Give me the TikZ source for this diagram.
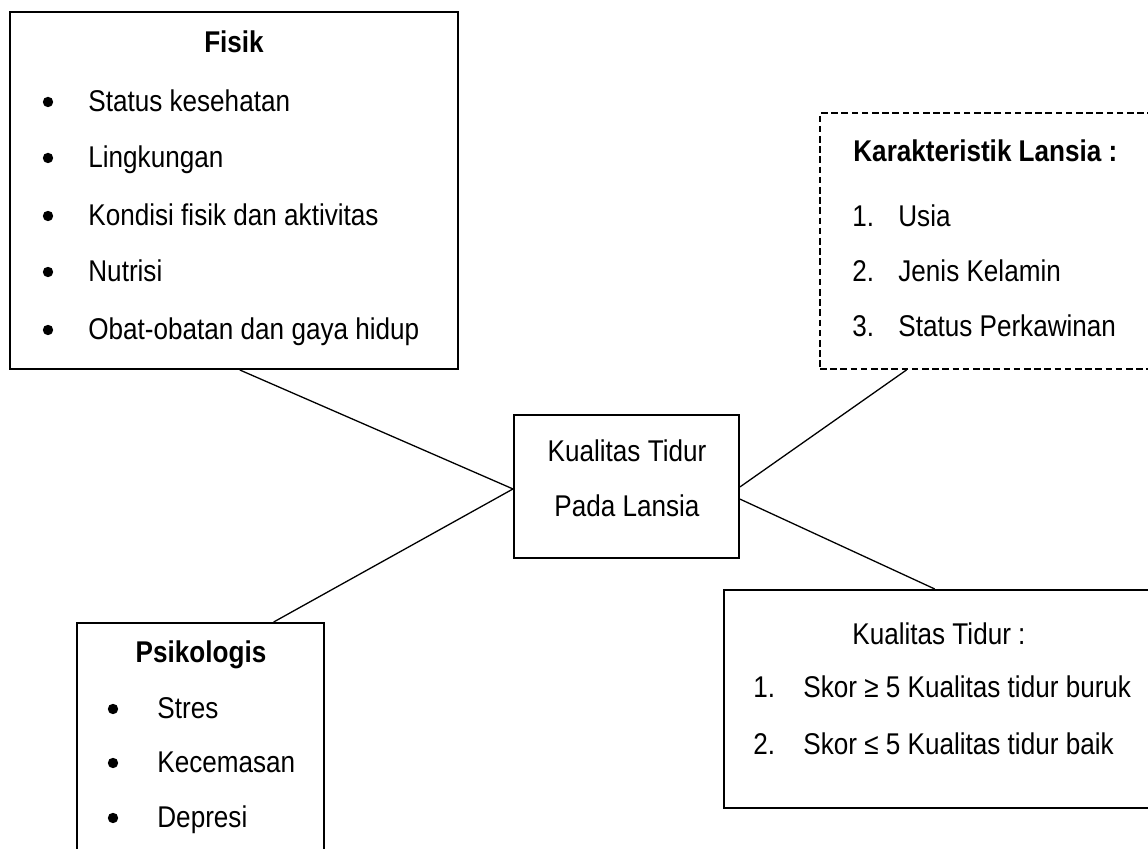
\documentclass[tikz,border=0pt]{standalone}
\usepackage{fontspec}
\setmainfont{Liberation Sans}[FakeStretch=0.87]
\usetikzlibrary{calc}
\tikzset{
  box/.style={draw=black, line width=1pt, inner sep=0pt},
  dashbox/.style={box, dash pattern=on 3.3pt off 1.8pt},
  conn/.style={draw=black, line width=0.65pt},
  txt/.style={inner sep=0pt, font=\fontsize{15}{18}\selectfont},
  hd/.style={txt, font=\fontsize{15}{18}\selectfont\bfseries},
  dot/.style={circle, fill=black, inner sep=0pt, minimum size=5.2pt},
}
\begin{document}
\begin{tikzpicture}[x=0.5pt, y=-0.5pt]
\clip (0,0) rectangle (1148,849);
\fill[white] (0,0) rectangle (1148,849);
% boxes
\node[box, minimum width=224pt, minimum height=178.5pt] (fisik) at (234,190.5) {};
\node[dashbox, minimum width=172.5pt, minimum height=128pt] (kar) at (992.5,241) {};
\node[box, minimum width=112.5pt, minimum height=71.5pt] (centre) at (626.5,486.5) {};
\node[box, minimum width=123.5pt, minimum height=123.5pt] (psi) at (200.5,746.5) {};
\node[box, minimum width=220.5pt, minimum height=109pt] (kual) at (944.5,699) {};
% Fisik
\node[hd, anchor=base] (fT) at (234,53) {Fisik};
\node[dot] (fb1) at (48,102) {};
\node[txt, anchor=base west] (f1) at (88,112) {Status kesehatan};
\node[dot] (fb2) at (48,158) {};
\node[txt, anchor=base west] (f2) at (88,168) {Lingkungan};
\node[dot] (fb3) at (48,216) {};
\node[txt, anchor=base west] (f3) at (88,226) {Kondisi fisik dan aktivitas};
\node[dot] (fb4) at (48,272) {};
\node[txt, anchor=base west] (f4) at (88,282) {Nutrisi};
\node[dot] (fb5) at (48,330) {};
\node[txt, anchor=base west] (f5) at (88,340) {Obat-obatan dan gaya hidup};
% Karakteristik
\node[hd, anchor=base west] (kT) at (853,162) {Karakteristik Lansia :};
\node[txt, anchor=base west] (kn1) at (852,227) {1.};
\node[txt, anchor=base west] (k1) at (898,227) {Usia};
\node[txt, anchor=base west] (kn2) at (852,282) {2.};
\node[txt, anchor=base west] (k2) at (898,282) {Jenis Kelamin};
\node[txt, anchor=base west] (kn3) at (852,337) {3.};
\node[txt, anchor=base west] (k3) at (898,337) {Status Perkawinan};
% centre
\node[txt, anchor=base] (c1) at (627,462) {Kualitas Tidur};
\node[txt, anchor=base] (c2) at (627,517) {Pada Lansia};
% Psikologis
\node[hd, anchor=base] (pT) at (201,663) {Psikologis};
\node[dot] (pb1) at (113,709) {};
\node[txt, anchor=base west] (p1) at (157,719) {Stres};
\node[dot] (pb2) at (113,763) {};
\node[txt, anchor=base west] (p2) at (157,773) {Kecemasan};
\node[dot] (pb3) at (113,818) {};
\node[txt, anchor=base west] (p3) at (157,828) {Depresi};
% Kualitas Tidur
\node[txt, anchor=base west] (qT) at (852,645) {Kualitas Tidur :};
\node[txt, anchor=base west] (qn1) at (753,698) {1.};
\node[txt, anchor=base west] (q1) at (803,698) {Skor ≥ 5 Kualitas tidur buruk};
\node[txt, anchor=base west] (qn2) at (753,755) {2.};
\node[txt, anchor=base west] (q2) at (803,755) {Skor ≤ 5 Kualitas tidur baik};
% connectors
\draw[conn] ($(fisik.south west)!0.513!(fisik.south east)$) -- ($(centre.north west)!0.517!(centre.south west)$);
\draw[conn] ($(psi.north west)!0.794!(psi.north east)$) -- ($(centre.north west)!0.517!(centre.south west)$);
\draw[conn] ($(kar.south west)!0.252!(kar.south east)$) -- ($(centre.north east)!0.503!(centre.south east)$);
\draw[conn] ($(kual.north west)!0.478!(kual.north east)$) -- ($(centre.north east)!0.587!(centre.south east)$);
\end{tikzpicture}
\end{document}
